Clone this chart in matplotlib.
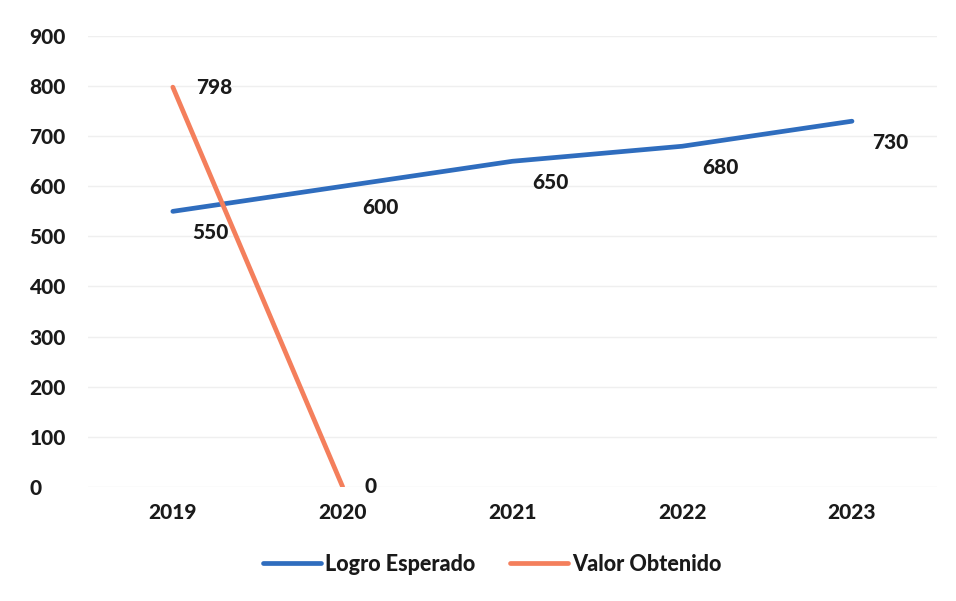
from matplotlib import pyplot as plt
import numpy as np

years = ['2019', '2020', '2021', '2022', '2023']
logro_esperado = [550, 600, 650, 680, 730]
valor_obtenido = [798, 0]

blue = '#2F6DBE'
orange = '#F47F5C'
txt = '#1a1a1a'

plt.rcParams['font.family'] = ['Lato', 'DejaVu Sans']
W = 900

fig = plt.figure(figsize=(9.56, 6.01), dpi=100)
ax = fig.add_axes([0.092, 0.19, 0.888, 0.75])

x = np.arange(len(years))
ax.plot(x, logro_esperado, color=blue, lw=3.4, solid_capstyle='round', label='Logro Esperado')
ax.plot(x[:len(valor_obtenido)], valor_obtenido, color=orange, lw=3.4, solid_capstyle='round', label='Valor Obtenido')

# data labels
for xi, v in zip(x, logro_esperado):
    ax.annotate(str(v), (xi, v), xytext=(38, -21), textcoords='offset pixels',
                ha='center', va='center', fontsize=15, fontweight=W, color=txt)
for xi, v in zip(x, valor_obtenido):
    ax.annotate(str(v), (xi, v), xytext=(41 if v else 28, 0), textcoords='offset pixels',
                ha='center', va='center', fontsize=15, fontweight=W, color=txt)

ax.set_xlim(-0.5, len(years) - 0.5)
ax.set_ylim(0, 900)
ax.set_yticks(np.arange(0, 901, 100))
ax.set_xticks(x)
ax.set_xticklabels(years)
ax.tick_params(length=0, labelsize=15, colors=txt, pad=12)
ax.tick_params(axis='y', pad=42)
for lbl in ax.get_xticklabels() + ax.get_yticklabels():
    lbl.set_fontweight(W)
for lbl in ax.get_yticklabels():
    lbl.set_horizontalalignment('left')
ax.grid(axis='y', color='#efefef', lw=1)
ax.set_axisbelow(True)
for s in ax.spines.values():
    s.set_visible(False)

ax.legend(loc='upper center', bbox_to_anchor=(0.476, -0.105), ncol=2, frameon=False,
          handlelength=2.7, columnspacing=1.6, handletextpad=0.2,
          prop={'weight': W, 'size': 15.5})
for t in ax.get_legend().get_texts():
    t.set_color(txt)

fig.savefig('out.png', dpi=100)
